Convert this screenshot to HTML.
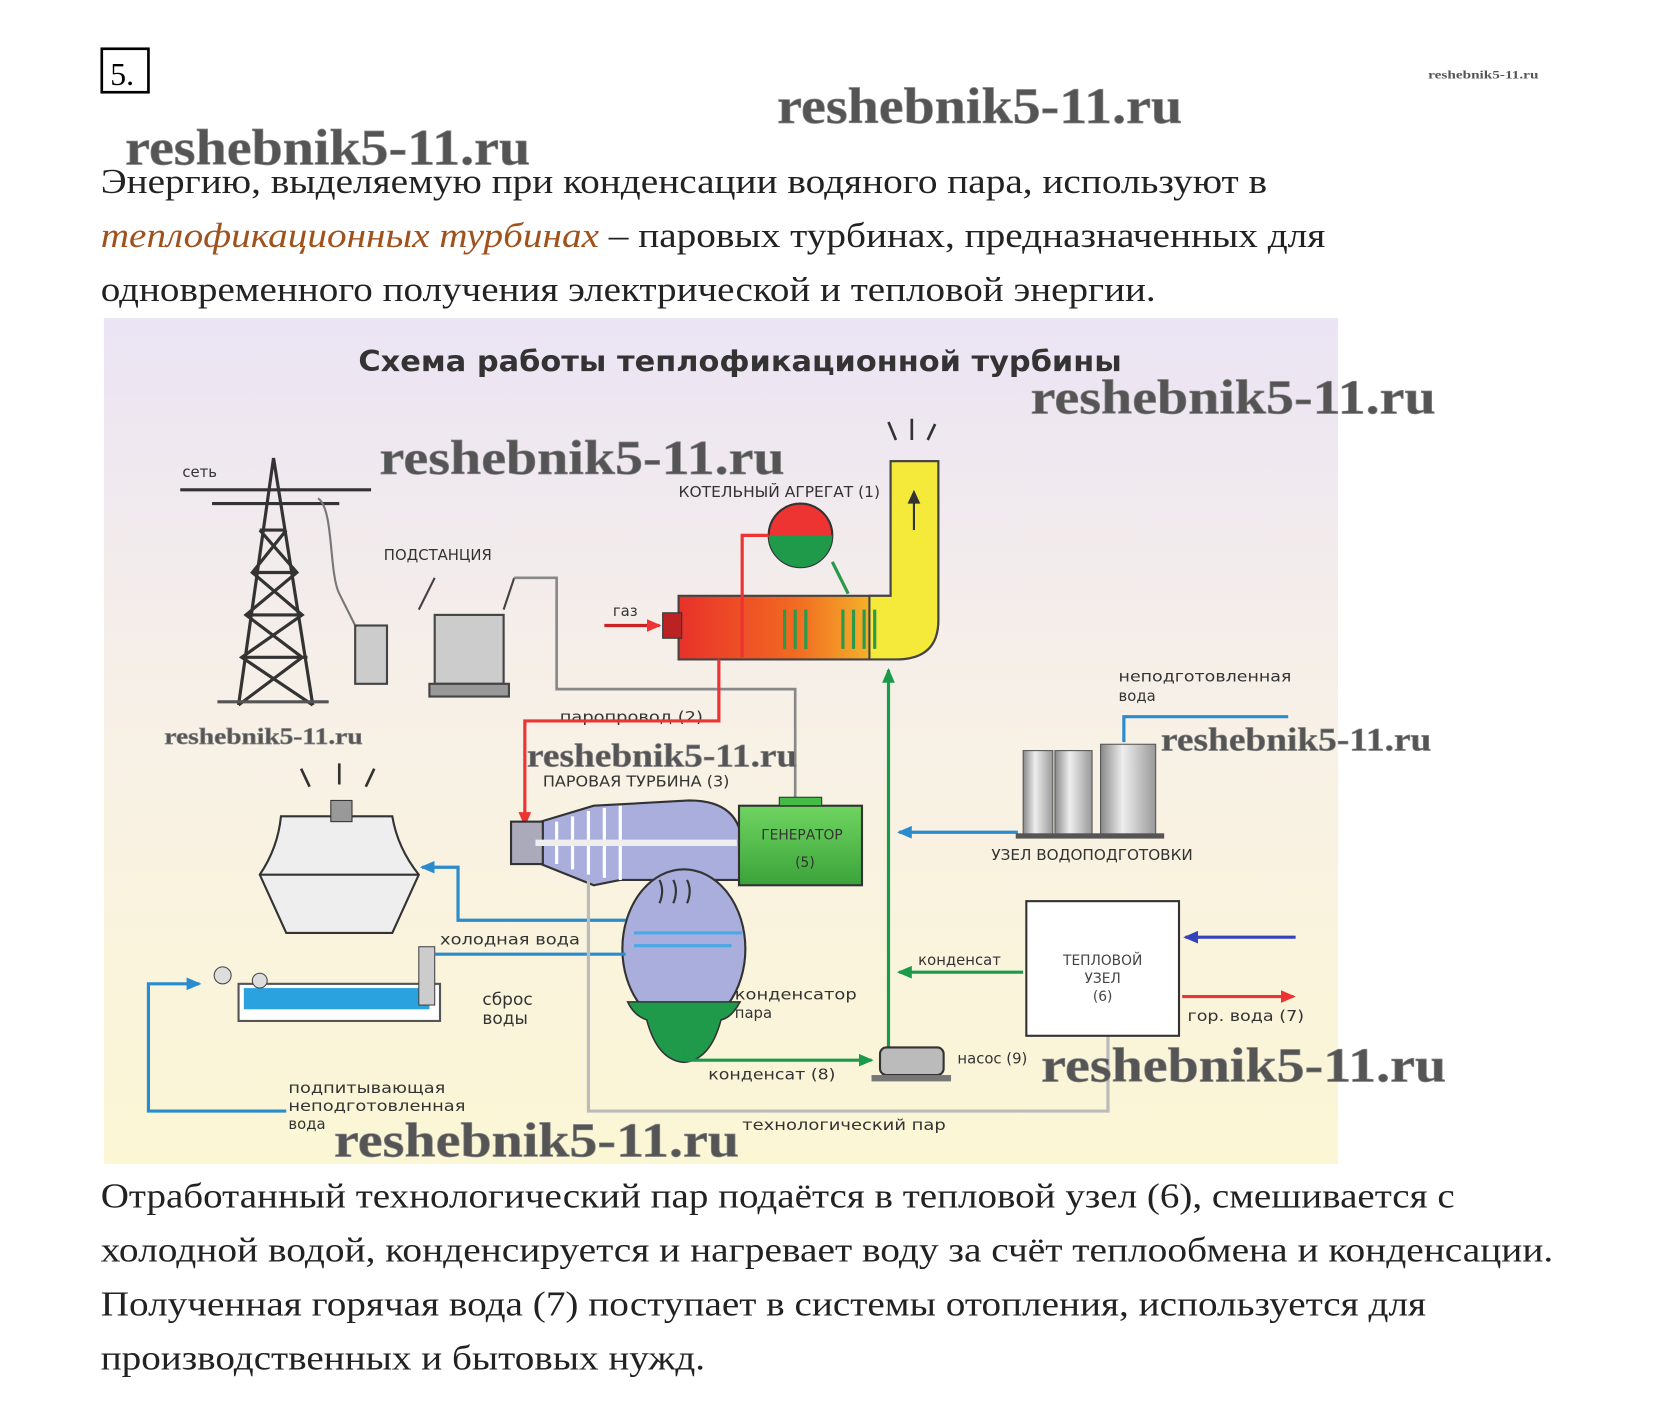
<!DOCTYPE html>
<html><head><meta charset="utf-8"><style>
html,body{margin:0;padding:0;background:#fff}
svg{display:block}
</style></head><body>
<svg width="1654" height="1427" viewBox="0 0 1560 1346" preserveAspectRatio="none" xmlns="http://www.w3.org/2000/svg">
<defs>
<linearGradient id="bg" x1="0" y1="0" x2="0" y2="1"><stop offset="0" stop-color="#ebe4f4"/><stop offset="0.5" stop-color="#f8f1e6"/><stop offset="1" stop-color="#fbf6d4"/></linearGradient>
<linearGradient id="boil" x1="0" y1="0" x2="1" y2="0"><stop offset="0" stop-color="#e8312a"/><stop offset="0.45" stop-color="#f26a22"/><stop offset="0.75" stop-color="#f4b42a"/><stop offset="1" stop-color="#f5ea3a"/></linearGradient>
<linearGradient id="gen" x1="0" y1="0" x2="0" y2="1"><stop offset="0" stop-color="#6fd460"/><stop offset="1" stop-color="#3ba33a"/></linearGradient>
<linearGradient id="cyl" x1="0" y1="0" x2="1" y2="0"><stop offset="0" stop-color="#888"/><stop offset="0.4" stop-color="#eee"/><stop offset="1" stop-color="#999"/></linearGradient>
<marker id="aR" markerUnits="userSpaceOnUse" markerWidth="14" markerHeight="12" refX="12" refY="6" orient="auto"><path d="M0,0L14,6L0,12z" fill="#e33"/></marker>
<marker id="aG" markerUnits="userSpaceOnUse" markerWidth="14" markerHeight="12" refX="12" refY="6" orient="auto"><path d="M0,0L14,6L0,12z" fill="#1a9a4a"/></marker>
<marker id="aB" markerUnits="userSpaceOnUse" markerWidth="14" markerHeight="12" refX="12" refY="6" orient="auto"><path d="M0,0L14,6L0,12z" fill="#2a8ccc"/></marker>
<marker id="aN" markerUnits="userSpaceOnUse" markerWidth="14" markerHeight="12" refX="12" refY="6" orient="auto"><path d="M0,0L14,6L0,12z" fill="#3344bb"/></marker>
</defs>

<rect x="96" y="46" width="44" height="41" fill="none" stroke="#000" stroke-width="2.5"/>
<text x="104" y="80" font-family="Liberation Serif" font-size="30" fill="#000">5.</text>
<text x="1347" y="74" font-family="Liberation Serif" font-size="11" font-weight="bold" fill="#555" textLength="104" lengthAdjust="spacingAndGlyphs">reshebnik5-11.ru</text>

<g font-family="Liberation Serif" font-weight="bold" fill="#555" stroke="#888" stroke-width="0.6" lengthAdjust="spacingAndGlyphs">
<text x="733" y="116" font-size="48" textLength="382" lengthAdjust="spacingAndGlyphs">reshebnik5-11.ru</text>
<text x="118" y="155" font-size="48" textLength="382" lengthAdjust="spacingAndGlyphs">reshebnik5-11.ru</text>
</g>

<g font-family="Liberation Serif" font-size="33" fill="#222">
<text x="95" y="182" textLength="1100" lengthAdjust="spacingAndGlyphs">Энергию, выделяемую при конденсации водяного пара, используют в</text>
<text x="95" y="233" textLength="1155" lengthAdjust="spacingAndGlyphs"><tspan fill="#a0521c" font-style="italic">теплофикационных турбинах</tspan> – паровых турбинах, предназначенных для</text>
<text x="95" y="284" textLength="995" lengthAdjust="spacingAndGlyphs">одновременного получения электрической и тепловой энергии.</text>
</g>

<rect x="98" y="300" width="1164" height="798" fill="url(#bg)"/>
<text x="338" y="350" font-family="DejaVu Sans" font-weight="bold" font-size="27" fill="#333" textLength="720" lengthAdjust="spacingAndGlyphs">Схема работы теплофикационной турбины</text>

<g font-family="DejaVu Sans" font-size="14" fill="#333">
<text x="172" y="450">сеть</text>
<text x="362" y="528">ПОДСТАНЦИЯ</text>
<text x="640" y="469" textLength="190" lengthAdjust="spacingAndGlyphs">КОТЕЛЬНЫЙ АГРЕГАТ (1)</text>
<text x="578" y="581">газ</text>
<text x="528" y="681" textLength="135" lengthAdjust="spacingAndGlyphs">паропровод (2)</text>
<text x="512" y="742" textLength="176" lengthAdjust="spacingAndGlyphs">ПАРОВАЯ ТУРБИНА (3)</text>
<text x="1055" y="643" textLength="163" lengthAdjust="spacingAndGlyphs">неподготовленная</text>
<text x="1055" y="661">вода</text>
<text x="935" y="811" textLength="190" lengthAdjust="spacingAndGlyphs">УЗЕЛ ВОДОПОДГОТОВКИ</text>
<text x="866" y="910">конденсат</text>
<text x="1120" y="963" textLength="110" lengthAdjust="spacingAndGlyphs">гор. вода (7)</text>
<text x="903" y="1003">насос (9)</text>
<text x="668" y="1018" textLength="120" lengthAdjust="spacingAndGlyphs">конденсат (8)</text>
<text x="700" y="1066" textLength="192" lengthAdjust="spacingAndGlyphs">технологический пар</text>
<text x="693" y="943" textLength="115" lengthAdjust="spacingAndGlyphs">конденсатор</text>
<text x="693" y="960">пара</text>
<text x="415" y="891" textLength="132" lengthAdjust="spacingAndGlyphs">холодная вода</text>
<text x="455" y="948" font-size="16">сброс</text>
<text x="455" y="966" font-size="16">воды</text>
<text x="272" y="1031" textLength="148" lengthAdjust="spacingAndGlyphs">подпитывающая</text>
<text x="272" y="1048" textLength="167" lengthAdjust="spacingAndGlyphs">неподготовленная</text>
<text x="272" y="1065">вода</text>
<text x="280" y="853">ГРАДИРНЯ</text>
</g>

<g stroke="#333" stroke-width="3" fill="none">
<path d="M258,432L225,665M258,432L295,665M170,462L350,462M200,475L320,475M245,500L270,500M238,540L280,540M232,580L285,580M228,620L290,620M245,500L280,540L232,580L285,620L225,665M270,500L238,540L285,580L228,620L295,665"/>
</g>
<path d="M205,662L310,662" stroke="#555" stroke-width="3"/>
<path d="M300,470 C315,480 310,540 320,560 L340,600" stroke="#777" fill="none" stroke-width="2"/>
<g stroke="#444" stroke-width="2" fill="#ccc">
<rect x="410" y="580" width="65" height="65"/>
<rect x="335" y="590" width="30" height="55"/>
<path d="M395,575 L410,545 M475,575 L485,545" fill="none"/>
<rect x="405" y="645" width="75" height="12" fill="#999"/>
</g>
<path d="M485,545 L525,545 L525,650 L750,650 L750,755" stroke="#888" stroke-width="2.5" fill="none"/>

<path d="M840,435 L885,435 L885,585 Q885,622 845,622 L640,622 L640,562 L840,562 Z" fill="url(#boil)" stroke="#444" stroke-width="2"/>
<path d="M840,435 L885,435 L885,585 Q885,622 845,622 L820,622 L820,562 L840,562 Z" fill="#f5ea3a" stroke="#444" stroke-width="2"/>
<path d="M862,500L862,470" stroke="#333" stroke-width="2"/>
<path d="M856,475L862,462L868,475z" fill="#333"/>
<circle cx="755" cy="505" r="30" fill="#e33" stroke="#333" stroke-width="2"/>
<path d="M725,505 A30,30 0 0 0 785,505 Z" fill="#1f9a4a"/>
<g stroke="#2a9a4a" stroke-width="3" fill="none">
<path d="M740,575 L740,612 M750,575 L750,612 M760,575 L760,612 M795,575 L795,612 M805,575 L805,612 M815,575 L815,612 M825,575 L825,612"/>
</g>
<path d="M725,505 L700,505 L700,620" stroke="#e33" stroke-width="3" fill="none"/>
<path d="M785,530 L800,560" stroke="#2a9a4a" stroke-width="3"/>
<rect x="625" y="578" width="18" height="24" fill="#b22" stroke="#333"/>
<path d="M570,590 L622,590" stroke="#c22" stroke-width="3" marker-end="url(#aR)"/>
<g stroke="#333" stroke-width="2.5" fill="none"><path d="M845,415 L838,398 M860,415 L860,395 M875,415 L882,400"/></g>

<path d="M678,622 L678,680 L495,680 L495,778" stroke="#e33" stroke-width="3" fill="none" marker-end="url(#aR)"/>
<path d="M838,1000 L838,632" stroke="#1a9a4a" stroke-width="3" fill="none" marker-end="url(#aG)"/>

<path d="M510,775 L560,760 L650,755 Q700,755 700,800 L700,830 L585,830 L560,835 L510,815 Z" fill="#a9aedd" stroke="#333" stroke-width="2"/>
<rect x="482" y="775" width="30" height="40" fill="#aab" stroke="#333" stroke-width="2"/>
<g stroke="#fff" stroke-width="3"><path d="M525,775L525,815M540,770L540,820M555,765L555,825M570,762L570,828M585,760L585,830"/></g>
<path d="M505,795 L695,795" stroke="#eee" stroke-width="6"/>
<ellipse cx="645" cy="895" rx="58" ry="75" fill="#a9aedd" stroke="#333" stroke-width="2"/>
<path d="M592,945 L698,945 Q690,960 680,962 Q670,1000 645,1002 Q620,1000 610,962 Q598,958 592,945 Z" fill="#1f9a4a" stroke="#333" stroke-width="1.5"/>
<g stroke="#333" stroke-width="2" fill="none"><path d="M622,830 q5,10 0,22 M635,830 q5,10 0,22 M648,830 q5,10 0,22"/></g>
<rect x="697" y="760" width="116" height="75" fill="url(#gen)" stroke="#333" stroke-width="2"/>
<rect x="735" y="752" width="40" height="8" fill="#4b4" stroke="#333"/>
<text x="718" y="792" font-family="DejaVu Sans" font-size="13" fill="#333">ГЕНЕРАТОР</text>
<text x="750" y="818" font-family="DejaVu Sans" font-size="13" fill="#333">(5)</text>

<path d="M265,770 L370,770 Q375,800 395,825 L370,880 L270,880 L245,825 Q262,800 265,770 Z" fill="#eee" stroke="#333" stroke-width="2"/>
<rect x="312" y="755" width="20" height="20" fill="#999" stroke="#333"/>
<path d="M245,825 L395,825" stroke="#333" stroke-width="2"/>
<g stroke="#333" stroke-width="2.5" fill="none"><path d="M292,742 L284,725 M320,740 L320,720 M345,742 L353,725"/></g>
<rect x="225" y="928" width="190" height="35" fill="#fff" stroke="#555" stroke-width="2"/>
<rect x="230" y="932" width="175" height="20" fill="#2aa2e0"/>
<rect x="395" y="893" width="15" height="55" fill="#ccc" stroke="#444"/>
<circle cx="210" cy="920" r="8" fill="#ddd" stroke="#444"/>
<circle cx="245" cy="925" r="7" fill="#ddd" stroke="#444"/>
<g stroke="#2a8ccc" stroke-width="3" fill="none">
<path d="M590,868 L432,868 L432,818 L398,818" marker-end="url(#aB)"/>
<path d="M590,900 L410,900"/>
<path d="M270,1048 L140,1048 L140,928 L188,928" marker-end="url(#aB)"/>
<path d="M960,785 L848,785" marker-end="url(#aB)"/>
<path d="M1060,700 L1060,676 L1215,676"/>
</g>
<path d="M598,880 L700,880 M598,892 L690,892" stroke="#4aa8e6" stroke-width="3"/>
<path d="M555,830 L555,1048 L1045,1048 L1045,978" stroke="#bbb" stroke-width="3" fill="none"/>
<path d="M645,985 L645,1000 L822,1000" stroke="#1a9a4a" stroke-width="3" fill="none" marker-end="url(#aG)"/>
<rect x="830" y="988" width="60" height="26" rx="6" fill="#bbb" stroke="#333" stroke-width="2"/>
<rect x="822" y="1014" width="75" height="6" fill="#777"/>
<path d="M965,917 L848,917" stroke="#1a9a4a" stroke-width="3" marker-end="url(#aG)"/>

<rect x="965" y="708" width="28" height="80" fill="url(#cyl)" stroke="#555"/>
<rect x="995" y="708" width="35" height="80" fill="url(#cyl)" stroke="#555"/>
<rect x="1038" y="702" width="52" height="86" fill="url(#cyl)" stroke="#555"/>
<rect x="958" y="786" width="140" height="5" fill="#555"/>

<rect x="968" y="850" width="144" height="127" fill="#fff" stroke="#333" stroke-width="2"/>
<g font-family="DejaVu Sans" font-size="13" fill="#444" text-anchor="middle">
<text x="1040" y="910">ТЕПЛОВОЙ</text><text x="1040" y="927">УЗЕЛ</text><text x="1040" y="944">(6)</text>
</g>
<path d="M1222,884 L1118,884" stroke="#3344bb" stroke-width="3" marker-end="url(#aN)"/>
<path d="M1115,940 L1220,940" stroke="#e33" stroke-width="3" marker-end="url(#aR)"/>

<g font-family="Liberation Serif" font-weight="bold" fill="#555" stroke="#888" stroke-width="0.6">
<text x="358" y="447" font-size="46" textLength="382" lengthAdjust="spacingAndGlyphs">reshebnik5-11.ru</text>
<text x="972" y="390" font-size="46" textLength="382" lengthAdjust="spacingAndGlyphs">reshebnik5-11.ru</text>
<text x="982" y="1020" font-size="46" textLength="382" lengthAdjust="spacingAndGlyphs">reshebnik5-11.ru</text>
<text x="315" y="1091" font-size="46" textLength="382" lengthAdjust="spacingAndGlyphs">reshebnik5-11.ru</text>
<text x="1095" y="708" font-size="31" textLength="255" lengthAdjust="spacingAndGlyphs">reshebnik5-11.ru</text>
<text x="497" y="723" font-size="31" textLength="255" lengthAdjust="spacingAndGlyphs">reshebnik5-11.ru</text>
<text x="155" y="702" font-size="22" textLength="187" lengthAdjust="spacingAndGlyphs">reshebnik5-11.ru</text>
</g>

<g font-family="Liberation Serif" font-size="33" fill="#222">
<text x="95" y="1139" textLength="1277" lengthAdjust="spacingAndGlyphs">Отработанный технологический пар подаётся в тепловой узел (6), смешивается с</text>
<text x="95" y="1190" textLength="1370" lengthAdjust="spacingAndGlyphs">холодной водой, конденсируется и нагревает воду за счёт теплообмена и конденсации.</text>
<text x="95" y="1241" textLength="1250" lengthAdjust="spacingAndGlyphs">Полученная горячая вода (7) поступает в системы отопления, используется для</text>
<text x="95" y="1292" textLength="570" lengthAdjust="spacingAndGlyphs">производственных и бытовых нужд.</text>
</g>
</svg>
</body></html>
